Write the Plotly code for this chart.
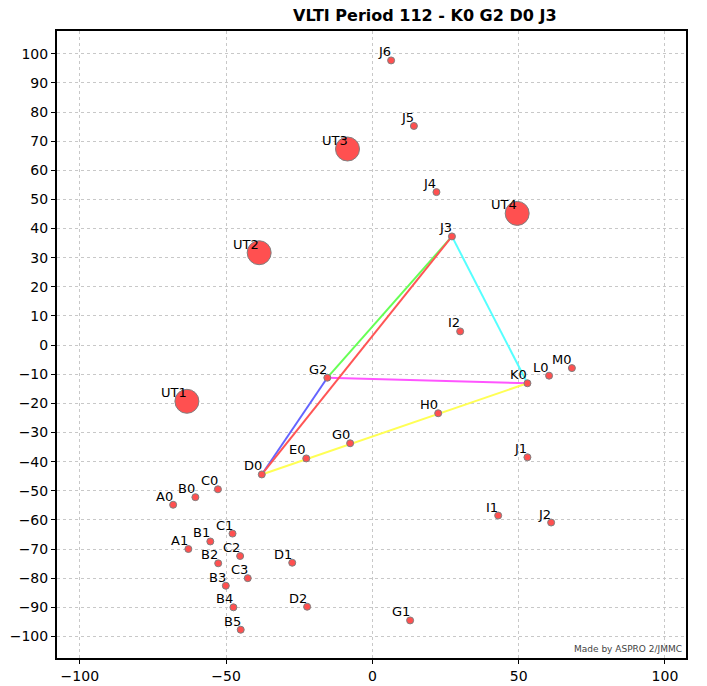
import plotly.graph_objects as go

stations = ["J6","J5","J4","J3","I2","M0","L0","K0","G2","H0","G0","E0","D0","J1",
            "C0","B0","A0","C1","B1","A1","C2","B2","D1","C3","B3","B4","D2","B5","G1","I1","J2"]
st_x = [6.4,14.2,21.9,27.2,30.0,68.2,60.4,53.0,-15.4,22.5,-7.6,-22.6,-37.8,53.0,
        -52.8,-60.5,-68.1,-47.8,-55.4,-62.9,-45.2,-52.7,-27.4,-42.6,-50.1,-47.5,-22.3,-45.0,12.9,43.0,61.1]
st_y = [97.7,75.2,52.5,37.3,4.7,-7.9,-10.5,-13.1,-11.2,-23.4,-33.7,-38.9,-44.4,-38.5,
        -49.5,-52.2,-54.8,-64.7,-67.4,-70.0,-72.4,-74.9,-74.7,-80.0,-82.6,-90.0,-89.8,-97.7,-94.5,-58.5,-60.9]

uts = ["UT1","UT2","UT3","UT4"]
ut_x = [-63.4,-38.7,-8.5,49.5]
ut_y = [-19.3,31.7,67.3,45.2]

baselines = [("D0","G2","#6464ff"),("G2","J3","#66ff55"),("J3","K0","#55ffff"),
             ("G2","K0","#ff55ff"),("D0","K0","#ffff55"),("D0","J3","#ff5555")]

pos = {n:(x,y) for n,x,y in zip(stations,st_x,st_y)}

fig = go.Figure()
for a,b,c in baselines:
    fig.add_trace(go.Scatter(x=[pos[a][0],pos[b][0]], y=[pos[a][1],pos[b][1]],
                             mode="lines", line=dict(color=c, width=2), hoverinfo="skip"))

fig.add_trace(go.Scatter(x=ut_x, y=ut_y, mode="markers",
                         marker=dict(size=24, color="#ff5050", line=dict(color="#808080", width=1))))
fig.add_trace(go.Scatter(x=st_x, y=st_y, mode="markers",
                         marker=dict(size=7, color="#ff5050", line=dict(color="#808080", width=1))))

annotations = []
for n,x,y in list(zip(uts,ut_x,ut_y)) + list(zip(stations,st_x,st_y)):
    annotations.append(dict(text=n, x=x, y=y, xref="x", yref="y", showarrow=False,
                            xanchor="right", yanchor="bottom", xshift=2, yshift=-1,
                            font=dict(family="DejaVu Sans", size=13, color="black")))

annotations.append(dict(text="Made by ASPRO 2/JMMC", xref="paper", yref="paper", x=0.997, y=0.003,
                        xanchor="right", yanchor="bottom", showarrow=False,
                        font=dict(family="DejaVu Sans", size=9, color="#444444")))

annotations.append(dict(text="<b>VLTI Period 112 - K0 G2 D0 J3</b>", xref="paper", yref="paper",
                        x=(417-49)/629, y=1, xanchor="center", yanchor="bottom", yshift=4,
                        showarrow=False, font=dict(family="DejaVu Sans", size=16, color="black")))

axis_common = dict(showgrid=True, gridcolor="#c8c8c8", griddash="3px,3px", gridwidth=1,
                   zeroline=False, showline=True, linecolor="black", linewidth=2, mirror=True,
                   ticks="outside", ticklen=4, tickcolor="black", automargin=False,
                   tickfont=dict(family="DejaVu Sans", size=14, color="black"))
fig.update_xaxes(range=[-107.8,107.2], tickvals=[-100,-50,0,50,100], **axis_common)
fig.update_yaxes(range=[-107.4,107.8], dtick=10, tick0=0, **axis_common)

fig.update_layout(
    width=699, height=678, showlegend=False,
    paper_bgcolor="white", plot_bgcolor="white",
    margin=dict(l=49, r=21, t=23, b=28),
    annotations=annotations
)
fig.write_html("out.html")
